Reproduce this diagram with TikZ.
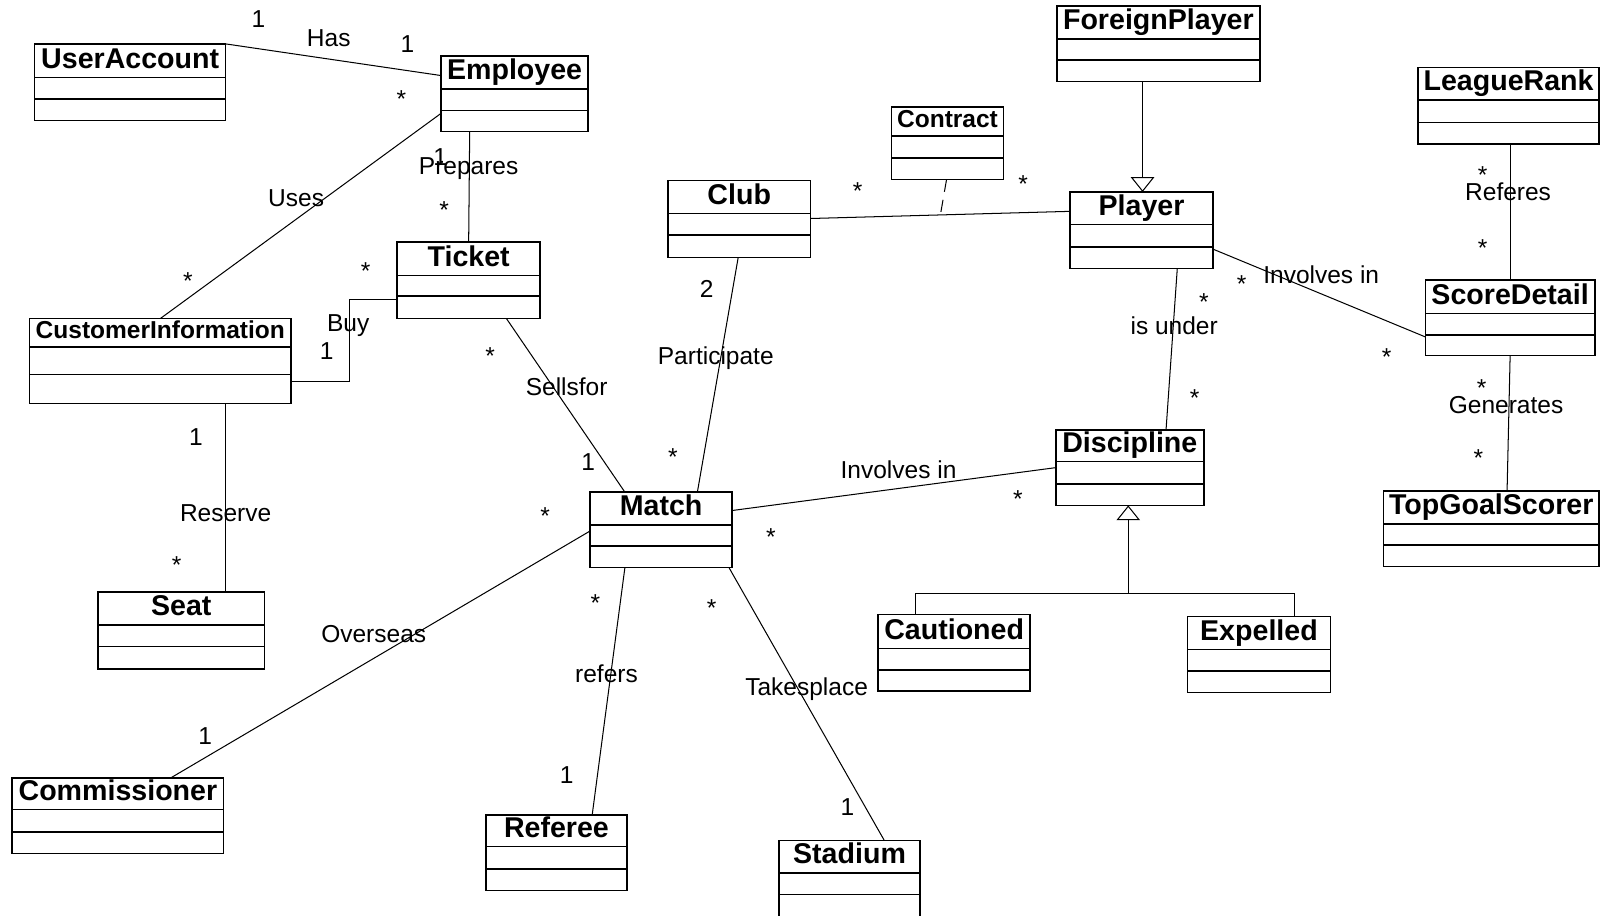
\documentclass[tikz,border=0pt]{standalone}
\usepackage{fontspec}
\setmainfont{Liberation Sans}
\usetikzlibrary{fit,calc,arrows.meta}
\tikzset{
  cls/.style={draw, line width=0.75pt, inner sep=0pt, outer sep=0pt},
  divl/.style={line width=0.75pt},
  assoc/.style={line width=0.5pt},
  lbl/.style={font=\fontsize{12}{14}\selectfont, anchor=base, inner sep=0pt},
  ttlbig/.style={font=\fontsize{14}{16}\selectfont\bfseries, anchor=base, inner sep=0pt},
  ttlsmall/.style={font=\fontsize{12}{14}\selectfont\bfseries, anchor=base, inner sep=0pt, yshift=-0.5pt},
  gen/.style={assoc, -{Triangle[open, length=7.25pt, width=11.5pt]}},
}
\newcommand\umlclass[9]{%
  \path (#2,#3) coordinate (#1-nw) (#4,#5) coordinate (#1-se);
  \node[cls, fit=(#1-nw)(#1-se)] (#1) {};
  \draw[divl] (#2,#6) -- (#4,#6);
  \draw[divl] (#2,#7) -- (#4,#7);
  \node[#9] (#1-title) at ($(#2,#6)!0.5!(#4,#6)+(0,-9)$) {#8};
}
\begin{document}
\begin{tikzpicture}[x=0.5pt, y=-0.5pt]
\fill[white] (0,0) rectangle (1568,897);
\useasboundingbox (0,0) rectangle (1568,897);
\clip (0,0) rectangle (1568,897);

% classes
\umlclass{ua}{34}{43}{221}{118}{76}{97}{UserAccount}{ttlbig}
\umlclass{emp}{432}{55}{576}{129}{87}{108}{Employee}{ttlbig}
\umlclass{ticket}{389}{237}{529}{312}{270}{290}{Ticket}{ttlbig}
\umlclass{ci}{29}{312}{285}{395}{340}{367}{CustomerInformation}{ttlsmall}
\umlclass{contract}{873}{105}{983}{176}{133}{155}{Contract}{ttlsmall}
\umlclass{club}{654}{177}{794}{252}{209}{230}{Club}{ttlbig}
\umlclass{player}{1048}{188}{1188}{263}{220}{242}{Player}{ttlbig}
\umlclass{fp}{1035}{6}{1234}{80}{38}{59}{ForeignPlayer}{ttlbig}
\umlclass{lr}{1389}{66}{1566}{141}{98}{120}{LeagueRank}{ttlbig}
\umlclass{sd}{1396}{274}{1562}{348}{307}{328}{ScoreDetail}{ttlbig}
\umlclass{disc}{1034}{421}{1179}{495}{452}{474}{Discipline}{ttlbig}
\umlclass{tgs}{1355}{481}{1566}{555}{513}{534}{TopGoalScorer}{ttlbig}
\umlclass{match}{578}{482}{717}{556}{514}{535}{Match}{ttlbig}
\umlclass{seat}{96}{580}{259}{655}{612}{633}{Seat}{ttlbig}
\umlclass{comm}{12}{762}{219}{836}{793}{815}{Commissioner}{ttlbig}
\umlclass{referee}{476}{798}{614}{872}{829}{851}{Referee}{ttlbig}
\umlclass{stadium}{763}{823}{901}{902}{855}{876}{Stadium}{ttlbig}
\umlclass{caut}{860}{602}{1009}{677}{635}{656}{Cautioned}{ttlbig}
\umlclass{exp}{1163}{604}{1303}{678}{636}{657}{Expelled}{ttlbig}

% associations
\draw[assoc] (ua.north east) -- ($(emp.north west)+(0,19)$);
\draw[assoc] ($(emp.north west)+(0,56)$) -- ($(ci.north west)+(128,0)$);
\draw[assoc] ($(emp.south west)+(28,0)$) -- ($(ticket.north west)+(70,0)$);
\coordinate (buyA) at ($(ticket.north west)+(0,56)$);
\draw[assoc] (buyA) -- ($(buyA)+(-47,0)$) |- ($(ci.north east)+(0,62)$);
\draw[assoc] ($(ci.south west)+(192,0)$) -- ($(seat.north west)+(125,0)$);
\draw[assoc] ($(ticket.south west)+(107,0)$) -- ($(match.north west)+(34,0)$);
\draw[assoc] ($(club.south west)+(69,0)$) -- ($(match.north west)+(105,0)$);
\coordinate (clubR) at ($(club.north east)+(0,37)$);
\coordinate (playerL) at ($(player.north west)+(0,19)$);
\draw[assoc] (clubR) -- (playerL);
\draw[assoc, dashed, dash pattern=on 6pt off 4pt] ($(contract.south west)+(54,0)$) -- ($(clubR)!0.5!(playerL)$);
\draw[gen] ($(fp.south west)+(84,0)$) -- ($(player.north west)+(71,0)$);
\draw[assoc] ($(player.south west)+(105,0)$) -- ($(disc.north west)+(108,0)$);
\draw[assoc] ($(player.north east)+(0,56)$) -- ($(sd.north west)+(0,56)$);
\draw[assoc] ($(lr.south west)+(90,0)$) -- ($(sd.north west)+(83,0)$);
\draw[assoc] ($(sd.south west)+(83,0)$) -- ($(tgs.north west)+(121,0)$);
\draw[assoc] ($(match.north east)+(0,18)$) -- ($(disc.north west)+(0,37)$);
\draw[assoc] ($(match.north west)+(0,38)$) -- ($(comm.north west)+(155,0)$);
\draw[assoc] ($(match.south west)+(34,0)$) -- ($(referee.north west)+(104,0)$);
\draw[assoc] ($(match.south west)+(136,0)$) -- ($(stadium.north west)+(103,0)$);
\coordinate (gj) at ($(disc.south west)+(71,86)$);
\draw[assoc] ($(caut.north west)+(37,0)$) |- (gj) -| ($(exp.north west)+(105,0)$);
\draw[gen] (gj) -- ($(disc.south west)+(71,0)$);

% labels
\node[lbl] (l1) at (253,27) {1};
\node[lbl] (l2) at (322,46) {Has};
\node[lbl] (l3) at (399,51) {1};
\node[lbl] (l4) at (393,105) {*};
\node[lbl] (l5) at (290,202) {Uses};
\node[lbl] (l6) at (184,284) {*};
\node[lbl] (l7) at (431,162) {1};
\node[lbl] (l8) at (459,171) {Prepares};
\node[lbl] (l9) at (435,214) {*};
\node[lbl] (l10) at (358,274) {*};
\node[lbl] (l11) at (341,325) {Buy};
\node[lbl] (l12) at (320,352) {1};
\node[lbl] (l13) at (480,357) {*};
\node[lbl] (l14) at (555,387) {Sellsfor};
\node[lbl] (l15) at (192,436) {1};
\node[lbl] (l16) at (221,511) {Reserve};
\node[lbl] (l17) at (173,562) {*};
\node[lbl] (l18) at (576,461) {1};
\node[lbl] (l19) at (534,514) {*};
\node[lbl] (l20) at (366,629) {Overseas};
\node[lbl] (l21) at (201,729) {1};
\node[lbl] (l22) at (583,599) {*};
\node[lbl] (l23) at (594,668) {refers};
\node[lbl] (l24) at (555,767) {1};
\node[lbl] (l25) at (659,456) {*};
\node[lbl] (l26) at (692,291) {2};
\node[lbl] (l27) at (701,357) {Participate};
\node[lbl] (l28) at (840,195) {*};
\node[lbl] (l29) at (1002,189) {*};
\node[lbl] (l30) at (880,469) {Involves in};
\node[lbl] (l31) at (997,497) {*};
\node[lbl] (l32) at (755,534) {*};
\node[lbl] (l33) at (697,604) {*};
\node[lbl] (l34) at (790,681) {Takesplace};
\node[lbl] (l35) at (830,799) {1};
\node[lbl] (l36) at (1216,286) {*};
\node[lbl] (l37) at (1294,278) {Involves in};
\node[lbl] (l38) at (1358,358) {*};
\node[lbl] (l39) at (1179,304) {*};
\node[lbl] (l40) at (1150,328) {is under};
\node[lbl] (l41) at (1170,398) {*};
\node[lbl] (l42) at (1452,180) {*};
\node[lbl] (l43) at (1477,196) {Referes};
\node[lbl] (l44) at (1452,251) {*};
\node[lbl] (l45) at (1451,388) {*};
\node[lbl] (l46) at (1475,405) {Generates};
\node[lbl] (l47) at (1448,457) {*};
\end{tikzpicture}
\end{document}
